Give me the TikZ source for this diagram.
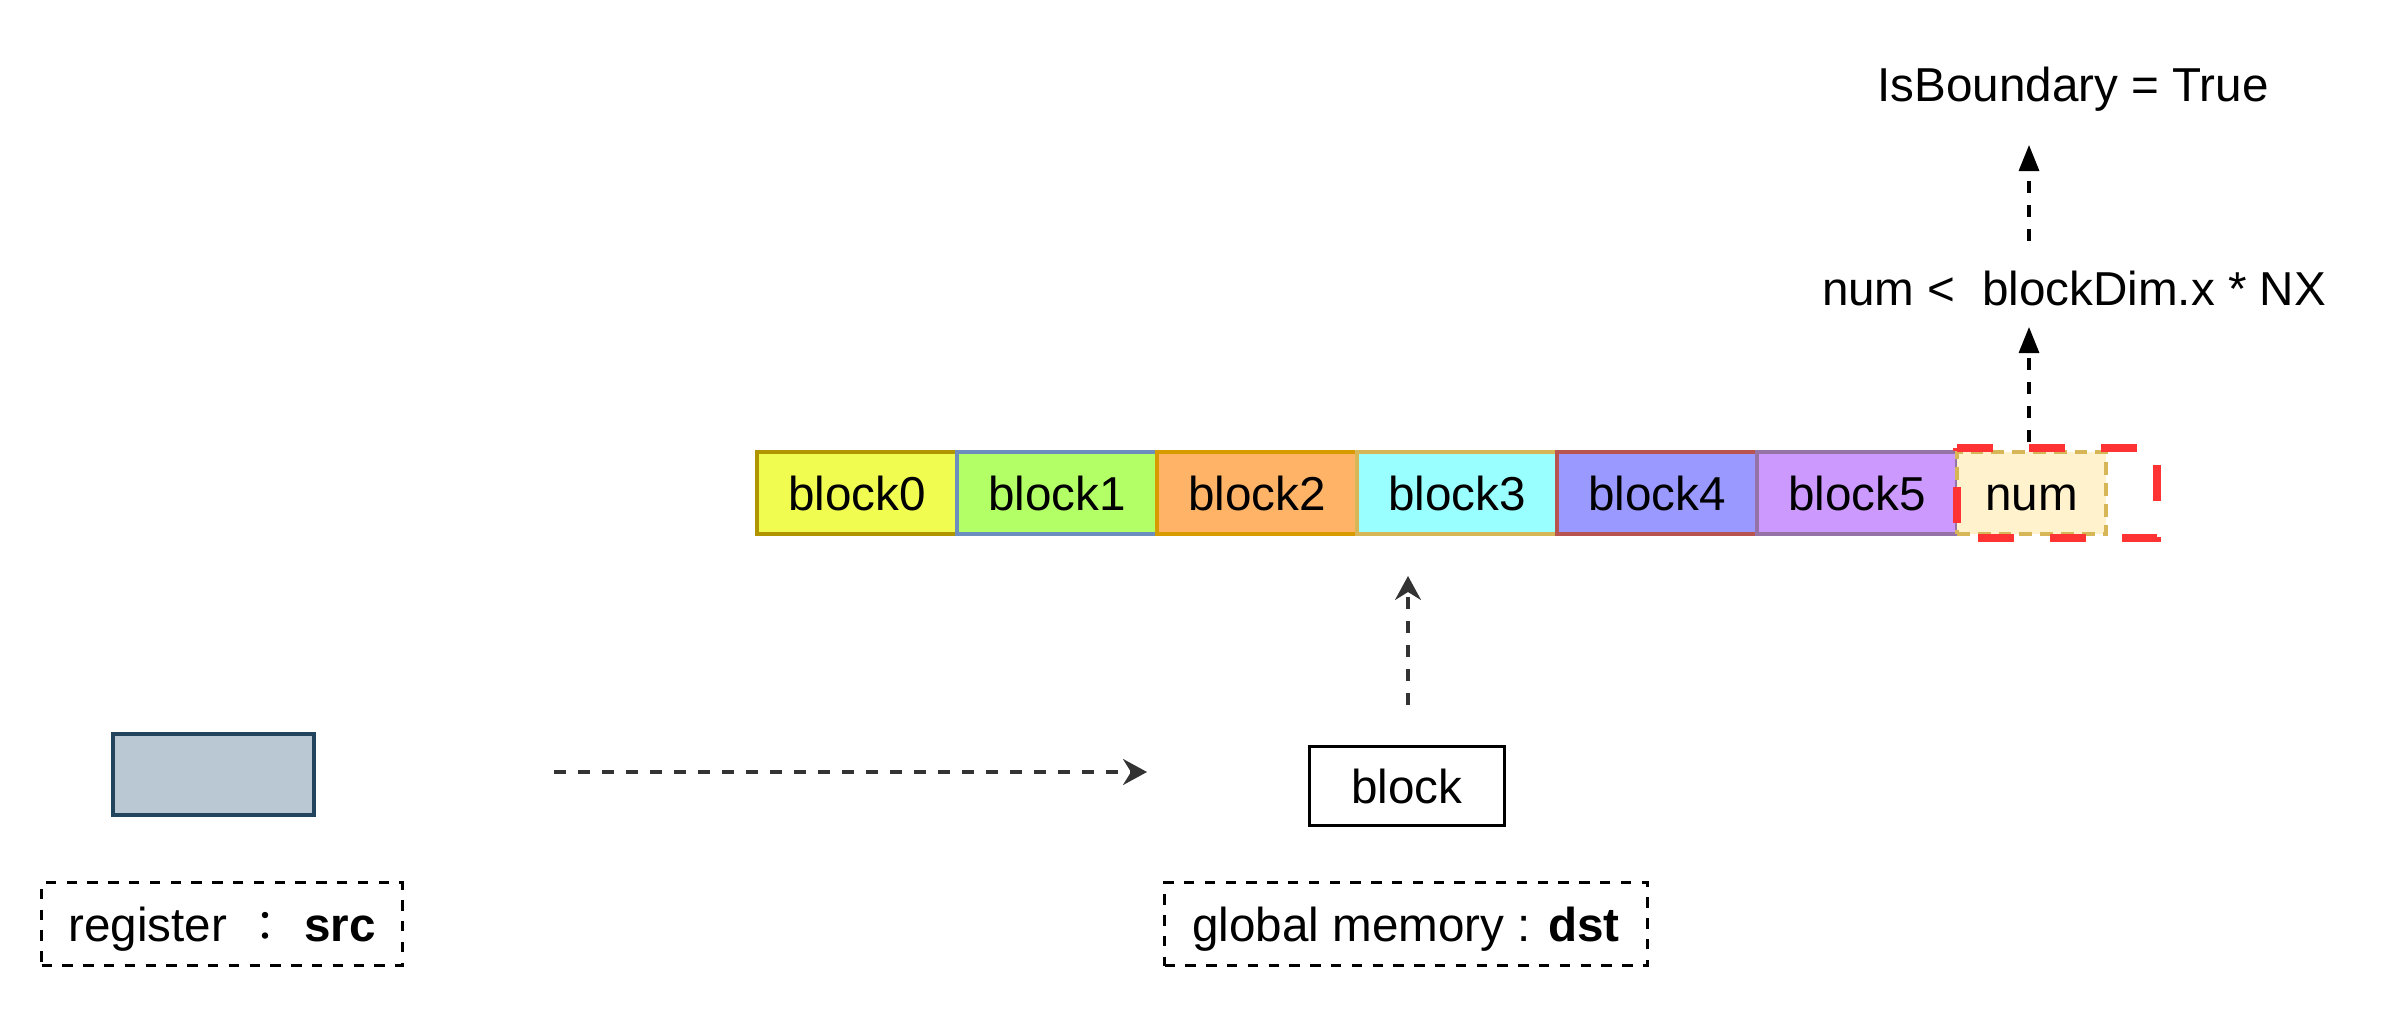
\documentclass[tikz,border=0pt]{standalone}
\usepackage{fontspec}
\setmainfont{Liberation Sans}
\newfontfamily\cjkfont{Noto Sans CJK JP}
\usetikzlibrary{arrows.meta}
\definecolor{fzero}{HTML}{F1FC50}
\definecolor{dzero}{HTML}{B09500}
\definecolor{fone}{HTML}{B3FF66}
\definecolor{done}{HTML}{6C8EBF}
\definecolor{ftwo}{HTML}{FFB366}
\definecolor{dtwo}{HTML}{D79B00}
\definecolor{fthree}{HTML}{99FFFF}
\definecolor{dthree}{HTML}{D6B656}
\definecolor{ffour}{HTML}{9999FF}
\definecolor{dfour}{HTML}{B85450}
\definecolor{ffive}{HTML}{CC99FF}
\definecolor{dfive}{HTML}{9673A6}
\definecolor{fnum}{HTML}{FFF2CC}
\definecolor{dnum}{HTML}{D6B656}
\definecolor{redline}{HTML}{FF3333}
\definecolor{regfill}{HTML}{BAC8D3}
\definecolor{regdraw}{HTML}{23445D}
\definecolor{arrgray}{HTML}{333333}
\begin{document}
\begin{tikzpicture}[x=0.25pt,y=-0.25pt,
  font=\fontsize{11.9}{14}\selectfont,
  every node/.style={text height=1.09em, text depth=0.212em},
  cell/.style={draw, line width=0.8pt, minimum width=50pt, minimum height=20.5pt, inner sep=0pt},
  lblbox/.style={draw, line width=0.75pt, dash pattern=on 2.6pt off 2.6pt, minimum height=20.75pt, inner sep=0pt},
  arrK/.style={line width=0.8pt, dash pattern=on 3pt off 3pt, -{Triangle[length=6.5pt,width=5pt]}},
  arrG/.style={arrgray, line width=0.8pt, dash pattern=on 3pt off 3pt, -{Stealth[length=6pt,width=6.5pt,inset=2pt]}},
  txt/.style={inner sep=0pt}
]
\useasboundingbox (0,0) rectangle (2388,1008);

% block row
\node[cell, fill=fzero, draw=dzero] (b0) at (857,493) {block0};
\node[cell, fill=fone, draw=done] (b1) at (1057,493) {block1};
\node[cell, fill=ftwo, draw=dtwo] (b2) at (1257,493) {block2};
\node[cell, fill=fthree, draw=dthree] (b3) at (1457,493) {block3};
\node[cell, fill=ffour, draw=dfour] (b4) at (1657,493) {block4};
\node[cell, fill=ffive, draw=dfive] (b5) at (1857,493) {block5};
\node[cell, fill=fnum, draw=dnum, dash pattern=on 3.2pt off 2pt, minimum width=37.25pt] (num) at (2031.5,493) {num};

% red dashed frame
\node[inner sep=0pt, minimum width=49.5pt, minimum height=22pt, text height=0pt, text depth=0pt] (redbox) at (2057,493) {};
\draw[redline, line width=2pt, dash pattern=on 9pt off 9pt]
  (redbox.north west) -- (redbox.north east) -- (redbox.south east) -- (redbox.south west) -- cycle;

% top texts
\node[txt] (isb) at (2073,84) {IsBoundary = True};
\node[txt] (cond) at (2074,288) {num <\ \ blockDim.x * NX};

\coordinate (u1s) at (2029,442);
\coordinate (u1e) at (2029,327);
\coordinate (u2s) at (2029,241);
\coordinate (u2e) at (2029,145);
\draw[arrK] (u1s) -- (u1e);
\draw[arrK] (u2s) -- (u2e);

% lower part
\node[draw=regdraw, fill=regfill, line width=1pt, minimum width=50.25pt, minimum height=20.25pt, inner sep=0pt, text height=0pt, text depth=0pt] (reg) at (213,774) {};
\node[draw, line width=0.8pt, fill=white, minimum width=48.75pt, minimum height=19.75pt, inner sep=0pt] (blk) at (1407,786) {block};

\coordinate (hs) at (554,772);
\coordinate (he) at (1147,772);
\draw[arrG] (hs) -- (he);

\coordinate (vs) at (1408,705);
\coordinate (ve) at (1408,576);
\draw[arrG] (vs) -- (ve);

\node[lblbox, minimum width=90.25pt] (srcl) at (222,924) {register {\cjkfont\fontsize{10.5}{12}\selectfont\hspace{0.1em}：\hspace{0.1em}} \textbf{src}};
\node[lblbox, minimum width=120.75pt] (dstl) at (1406,924) {global memory : \textbf{dst}};
\end{tikzpicture}
\end{document}
